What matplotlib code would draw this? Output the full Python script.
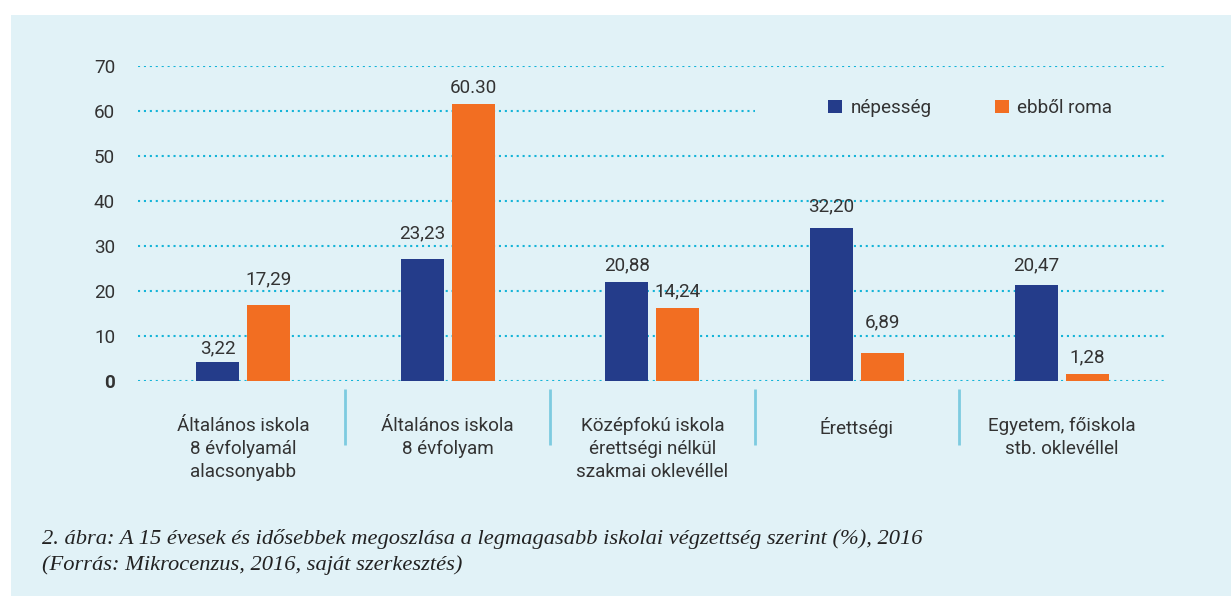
import matplotlib
matplotlib.use("Agg")
import matplotlib.pyplot as plt
from matplotlib.patches import Rectangle, Patch
import numpy as np

categories = [
    "Általános iskola\n8 évfolyamál\nalacsonyabb",
    "Általános iskola\n8 évfolyam",
    "Középfokú iskola\nérettségi nélkül\nszakmai oklevéllel",
    "Érettségi",
    "Egyetem, főiskola\nstb. oklevéllel",
]
series_names = ["népesség", "ebből roma"]
nepesseg = [4.1, 27.0, 21.9, 33.9, 21.3]
roma = [16.8, 61.5, 16.1, 6.1, 1.45]
nepesseg_labels = ["3,22", "23,23", "20,88", "32,20", "20,47"]
roma_labels = ["17,29", "60.30", "14,24", "6,89", "1,28"]
# gap between bar top and value label (data units)
nepesseg_label_gap = [2.0, 4.7, 2.7, 3.8, 3.3]
roma_label_gap = [4.5, 2.5, 2.7, 5.8, 2.65]
yticks = [0, 10, 20, 30, 40, 50, 60, 70]
caption = ("2. ábra: A 15 évesek és idősebbek megoszlása a legmagasabb iskolai végzettség szerint (%), 2016\n"
           "(Forrás: Mikrocenzus, 2016, saját szerkesztés)")

BG = "#E1F2F7"
NAVY = "#243C8A"
ORANGE = "#F26E22"
GRID = "#14B4D8"
SEP = "#7DCBE0"
TXT = "#333333"

W, H = 1231, 596
dpi = 100
fig = plt.figure(figsize=(W / dpi, H / dpi), dpi=dpi)
fig.patch.set_facecolor("white")
bgax = fig.add_axes([11 / W, 0, 1 - 11 / W, 1 - 15 / H], zorder=-10)
bgax.set_facecolor(BG)
bgax.set_axis_off()
bgax.add_patch(Rectangle((0, 0), 1, 1, transform=bgax.transAxes, facecolor=BG, edgecolor="none"))

left, right = 138 / W, 1164 / W
top, bottom = 1 - 66 / H, 1 - 380.5 / H
ax = fig.add_axes([left, bottom, right - left, top - bottom])
ax.set_facecolor("none")
for s in ax.spines.values():
    s.set_visible(False)

font = "Roboto"
fs = 13.6

x = np.arange(len(categories))
bw = 43 / 204.7
gap = 8 / 204.7
ax.set_xlim(-0.513, 4.5)
ax.set_ylim(0, 70)

# gridlines
for t in yticks:
    xmax = 0.601 if t == 60 else 1.0
    ax.axhline(t, xmin=0, xmax=xmax, color=GRID, lw=1.5, linestyle=(0, (1, 1.84)),
               dash_capstyle="butt", zorder=1)

xn = x - bw / 2 - gap / 2
xr = x + bw / 2 + gap / 2
ax.bar(xn, nepesseg, width=bw, color=NAVY, zorder=2, label=series_names[0])
ax.bar(xr, roma, width=bw, color=ORANGE, zorder=2, label=series_names[1])

for xi, v, g, lab in zip(xn, nepesseg, nepesseg_label_gap, nepesseg_labels):
    ax.text(xi, v + g, lab, ha="center", va="baseline", fontsize=fs, family=font, color=TXT, zorder=3)
for xi, v, g, lab in zip(xr, roma, roma_label_gap, roma_labels):
    ax.text(xi, v + g, lab, ha="center", va="baseline", fontsize=fs, family=font, color=TXT, zorder=3)

ax.set_yticks(yticks)
ax.set_yticklabels([str(t) for t in yticks], family=font, fontsize=fs, color=TXT)
ax.get_yticklabels()[0].set_fontweight("bold")
ax.tick_params(axis="y", length=0, pad=16.5)
ax.set_xticks([])

# category labels
for xi, lab in zip(x, categories):
    ax.text(xi, -8.2, lab, ha="center", va="top", fontsize=fs, family=font, color=TXT,
            linespacing=1.34, clip_on=False)

# separators
for s in np.arange(0.5, len(categories) - 1, 1.0):
    ax.plot([s, s], [-1.9, -14.4], color=SEP, lw=2, clip_on=False, solid_capstyle="butt")

# legend
handles = [Patch(facecolor=NAVY, edgecolor="none"), Patch(facecolor=ORANGE, edgecolor="none")]
leg = ax.legend(handles, series_names, loc="center left",
                bbox_to_anchor=((828 - 138) / 1026, 60.6 / 70), ncol=2, frameon=False,
                prop={"family": font, "size": fs}, handlelength=0.74, handleheight=0.74,
                handletextpad=0.45, columnspacing=3.35, borderpad=0, borderaxespad=0)
for t in leg.get_texts():
    t.set_color(TXT)

fig.text(42 / W, 1 - 552 / H, caption, ha="left", va="center", fontsize=16.2, family="Liberation Serif",
         style="italic", color="#222222", linespacing=1.38)

fig.savefig("out.png", dpi=dpi)
